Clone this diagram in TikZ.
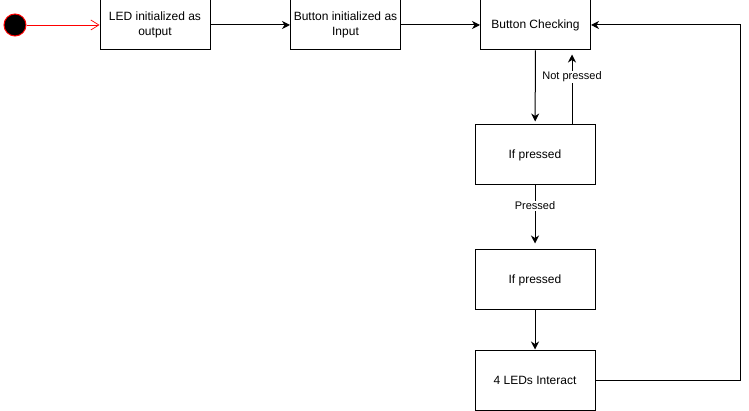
\documentclass[tikz,border=0pt]{standalone}
\usepackage{fontspec}
\setmainfont{Liberation Sans}
\usetikzlibrary{arrows.meta,positioning}

\begin{document}
\begin{tikzpicture}[x=1pt,y=-1pt,
	box/.style={draw, line width=1pt, minimum width=110pt, minimum height=50pt,
	align=center, inner sep=1pt, font=\fontsize{12}{15}\selectfont},
	bigbox/.style={box, minimum width=120pt, minimum height=60pt},
	arr/.style={-{Stealth[length=8pt,width=8pt,inset=2.5pt]}, line width=1pt},
	lbl/.style={fill=white, inner sep=1pt, font=\fontsize{11}{13}\selectfont}]
\useasboundingbox (0,0) rectangle (749,411);
% Startpunkt
\node [circle, draw=red, fill=black, line width=1pt, minimum size=22pt, inner sep=0pt, name=start] at (15,25) {};
% Kaesten oben
\node [box, name=led] at (155,25) {LED initialized as\\output};
\node [box, name=btn] at (345.5,25) {Button initialized as\\Input};
\node [box, name=check] at (535.5,25) {Button Checking};
% Kaesten rechts unten
\node [bigbox, name=ifa] at (535,155) {If pressed};
\node [bigbox, name=ifb] at (535,280) {If pressed};
\node [bigbox, name=leds] at (535,380) {4 LEDs Interact};
% Pfeile
\draw [red, line width=0.7pt, -{Straight Barb[length=8pt,width=10pt]}] (start) -- (led);
\draw [arr] (led) -- (btn);
\draw [arr] (btn) -- (check);
\draw [arr, shorten >=3pt] (check) -- (ifa);
\draw [arr, shorten >=6pt] (ifa) -- (ifb) node[lbl, pos=0.32] {Pressed};
\draw [arr] (ifb) -- (leds);
\draw [arr, shorten >=4pt] ([xshift=37pt]ifa.north) -- ([xshift=37pt]ifa.north |- check.south)
	node[lbl, pos=0.64] {Not pressed};
% Rueckweg
\draw [arr] (leds.east) -- ++(145,0) |- (check.east);
\end{tikzpicture}
\end{document}
